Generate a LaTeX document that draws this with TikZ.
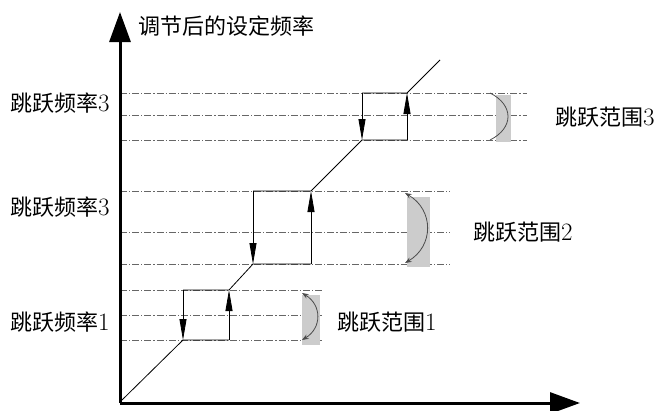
\documentclass[tikz,border=0pt]{standalone}
\usepackage{fontspec}
\newfontfamily\cjk{Noto Sans CJK SC}
\usetikzlibrary{arrows.meta}
\definecolor{rangegray}{gray}{0.8}
\newcommand{\dgt}[1]{{\fontsize{25}{24}\selectfont #1}}

\begin{document}
\begin{tikzpicture}[x=1pt, y=-1pt, font=\fontsize{22}{24}\selectfont, >=Stealth,
  guide/.style={gray!80!black, line width=0.7pt, dash pattern=on 7pt off 2pt on 1.2pt off 2pt},
  stair/.style={line width=0.8pt},
  jump/.style={stair, -{Triangle[length=21pt,width=7pt]}},
  axis/.style={line width=3pt, -{Triangle[length=30pt,width=21pt]}},
  span/.style={gray!60!black, line width=0.8pt},
  lbl/.style={anchor=west, inner sep=0pt}]
  \useasboundingbox (0,0) rectangle (660,410);
  %% Guide lines of the three jump ranges: {y}/{x-end}
  \foreach \y/\xe in {93/527, 115/527, 140/527,
                      191/450, 232/450, 264/450,
                      290/323, 315/323, 340/323}{
    \draw[guide] (120,\y) -- (\xe,\y);
  }
  %% Axes
  \coordinate (O) at (120,403);
  \coordinate (ytip) at (120,12);
  \coordinate (xtip) at (580,403);
  \draw[axis] (O) -- (ytip);
  \draw[axis] (O) -- (xtip);
  \node[lbl] (ylab) at (138,26) {\cjk 调节后的设定频率};
  %% Staircase corners
  \coordinate (s0) at (122,400);
  \coordinate (a1) at (183,340); \coordinate (b1) at (229,340);
  \coordinate (c1) at (229,290); \coordinate (d1) at (183,290);
  \coordinate (a2) at (253,264); \coordinate (b2) at (311,264);
  \coordinate (c2) at (311,191); \coordinate (d2) at (253,191);
  \coordinate (a3) at (362,140); \coordinate (b3) at (407,140);
  \coordinate (c3) at (407,93);  \coordinate (d3) at (362,93);
  \coordinate (s1) at (440,60);
  %% Setting curve with hysteresis boxes
  \draw[stair] (s0) -- (a1) -- (b1);
  \draw[stair] (d1) -- (c1) -- (a2) -- (b2);
  \draw[stair] (d2) -- (c2) -- (a3) -- (b3);
  \draw[stair] (d3) -- (c3) -- (s1);
  \foreach \i in {1,2,3}{
    \draw[jump] (d\i) -- (a\i);
    \draw[jump] (b\i) -- (c\i);
  }
  %% Jump range markers
  \fill[rangegray] (496,95) rectangle (511,142);
  \fill[rangegray] (407,197) rectangle (430,267);
  \fill[rangegray] (302,295) rectangle (320,345);
  \coordinate (r3t) at (490,93);  \coordinate (r3b) at (490,140);
  \coordinate (r2t) at (405,193); \coordinate (r2b) at (405,263);
  \coordinate (r1t) at (302,293); \coordinate (r1b) at (302,340);
  \draw[span] (r3t) .. controls (514,105) and (514,128) .. (r3b);
  \draw[span, <->] (r2t) .. controls (434,210) and (434,246) .. (r2b);
  \draw[span, <->] (r1t) .. controls (322,305) and (322,328) .. (r1b);
  %% Labels
  \node[lbl] (f3a) at (10,103) {{\cjk 跳跃频率}\dgt{3}};
  \node[lbl] (f3b) at (10,207) {{\cjk 跳跃频率}\dgt{3}};
  \node[lbl] (f1)  at (10,322) {{\cjk 跳跃频率}\dgt{1}};
  \node[lbl] (g3)  at (555,117) {{\cjk 跳跃范围}\dgt{3}};
  \node[lbl] (g2)  at (473,232) {{\cjk 跳跃范围}\dgt{2}};
  \node[lbl] (g1)  at (337,322) {{\cjk 跳跃范围}\dgt{1}};
\end{tikzpicture}
\end{document}
